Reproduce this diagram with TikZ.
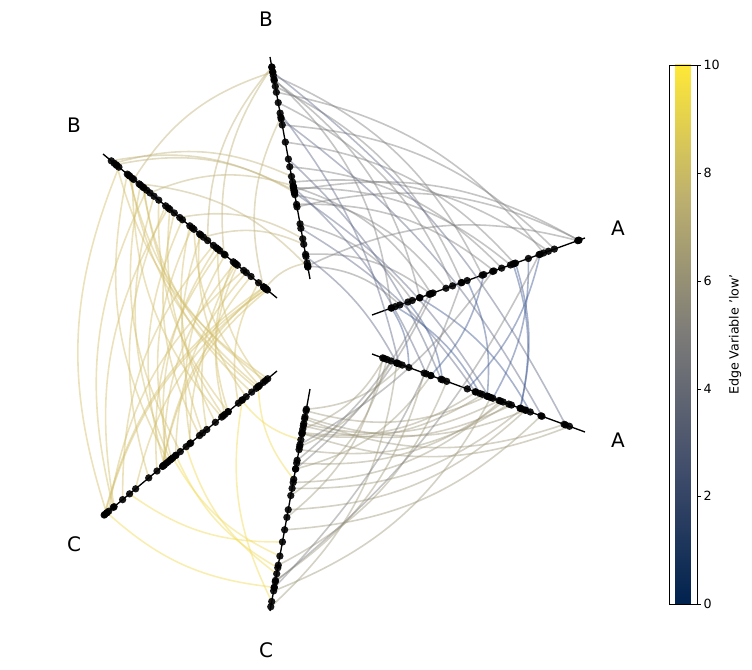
\documentclass[tikz,border=0pt]{standalone}
\usepackage{fontspec}
\setmainfont{DejaVu Sans}
\usetikzlibrary{calc}
\definecolor{cv0}{HTML}{00224E}
\definecolor{cv1}{HTML}{414D6B}
\definecolor{cv2}{HTML}{7C7B78}
\definecolor{cv3}{HTML}{BCAF6F}
\definecolor{cv4}{HTML}{FEE838}
\pgfdeclareverticalshading{cividis}{28bp}{color(0bp)=(cv0); color(25bp)=(cv0); color(37.5bp)=(cv1); color(50bp)=(cv2); color(62.5bp)=(cv3); color(75bp)=(cv4); color(100bp)=(cv4)}
\definecolor{eyel}{HTML}{D2BE6A}
\definecolor{ebri}{HTML}{F0DA55}
\definecolor{etan}{HTML}{BFB27A}
\definecolor{egry}{HTML}{7E7E80}
\definecolor{ebgr}{HTML}{5F6886}
\definecolor{eblu}{HTML}{3F5890}
\definecolor{eoli}{HTML}{A09A7E}
\tikzset{
  edge/.style={line width=1.2pt, opacity=0.45},
  dot/.style={circle, fill=black, inner sep=0pt, minimum size=5.5pt, opacity=0.9},
  axisline/.style={black, line width=1pt},
  lab/.style={font=\fontsize{15}{15}\selectfont},
}
\newcommand{\hiveedges}[6]{%
  \foreach \i in {1,...,#3}{
    \pgfmathsetmacro\ta{0.05+0.95*rnd}
    \pgfmathsetmacro\tb{0.05+0.95*rnd}
    \draw[edge,#4] ($(#1s)!\ta!(#1e)$) to[bend #5=#6] ($(#2s)!\tb!(#2e)$);
  }}
\newcommand{\hivedots}[3]{%
  \foreach \i in {1,...,#3}{
    \pgfmathsetmacro\ta{0.05+0.95*rnd}
    \pgfmathsetmacro\tb{0.05+0.95*rnd}
    \node[dot] at ($(#1s)!\ta!(#1e)$) {};
    \node[dot] at ($(#2s)!\tb!(#2e)$) {};
  }}
\begin{document}
\begin{tikzpicture}[x=0.75pt,y=-0.75pt]
\useasboundingbox (0,0) rectangle (752,670);
\coordinate (AUs) at (372,315); \coordinate (AUe) at (585,238);
\coordinate (ALs) at (372,354); \coordinate (ALe) at (585,432);
\coordinate (BTs) at (310,279); \coordinate (BTe) at (270,57);
\coordinate (BLs) at (277,298); \coordinate (BLe) at (103,154);
\coordinate (CLs) at (277,371); \coordinate (CLe) at (103,516);
\coordinate (CBs) at (310,389); \coordinate (CBe) at (270,611);
\foreach \a in {AU,AL,BT,BL,CL,CB}{\draw[axisline] (\a s) -- (\a e);}
\pgfmathsetseed{4321}
\hiveedges{BL}{CL}{40}{eyel}{right}{20}
\hiveedges{CL}{CB}{8}{ebri}{right}{18}
\hiveedges{BT}{BL}{12}{etan}{right}{20}
\hiveedges{BT}{AU}{20}{egry}{left}{20}
\hiveedges{BT}{AL}{8}{ebgr}{left}{12}
\hiveedges{AU}{AL}{10}{eblu}{left}{15}
\hiveedges{AL}{CB}{24}{eoli}{left}{20}
\hiveedges{AU}{CB}{5}{egry}{left}{12}
\pgfmathsetseed{4321}
\hivedots{BL}{CL}{40}
\hivedots{CL}{CB}{8}
\hivedots{BT}{BL}{12}
\hivedots{BT}{AU}{20}
\hivedots{BT}{AL}{8}
\hivedots{AU}{AL}{10}
\hivedots{AL}{CB}{24}
\hivedots{AU}{CB}{5}
\node[lab] (lA1) at (618,228) {A};
\node[lab] (lA2) at (618,440) {A};
\node[lab] (lB1) at (266,19) {B};
\node[lab] (lB2) at (74,125) {B};
\node[lab] (lC1) at (74,544) {C};
\node[lab] (lC2) at (266,650) {C};
\node[inner sep=0pt, outer sep=0pt, minimum width=21pt, minimum height=404.25pt, shading=cividis, draw=black, line width=0.4pt] (cbar) at (683,334.5) {};
\foreach \v/\y in {0/604,2/496,4/389,6/281,8/173,10/65}{
  \draw[line width=0.6pt] (697,\y) -- (701,\y);
  \node[anchor=west, font=\fontsize{9.5}{9.5}\selectfont, inner sep=1pt] at (702,\y) {\v};
}
\node[rotate=90, font=\fontsize{9.5}{9.5}\selectfont] (cblab) at (735,334.5) {Edge Variable 'low'};
\end{tikzpicture}
\end{document}
